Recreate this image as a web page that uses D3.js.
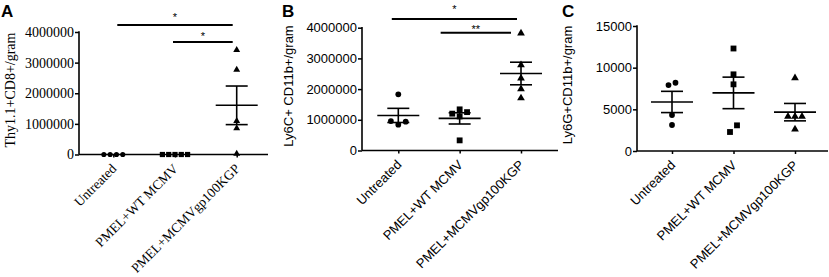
<!DOCTYPE html>
<html>
<head>
<meta charset="utf-8">
<script src="https://cdnjs.cloudflare.com/ajax/libs/d3/7.8.5/d3.min.js"></script>
<style>
  body { margin: 0; background: #fff; }
  svg { display: block; }
</style>
</head>
<body>
<div id="chart"></div>
<script>
// categories shared by the three panels
var categories = ["Untreated", "PMEL+WT MCMV", "PMEL+MCMVgp100KGP"];

// panel A: Thy1.1+CD8+ per gram
var thyUntreated = [0, 0, 0, 0];
var thyWT = [0, 0, 0, 0, 0];
var thyGp100 = [3390000, 2740000, 1070000, 830000, 0];

// panel B: Ly6C+ CD11b+ per gram
var ly6cUntreated = [1830000, 840000, 960000, 940000];
var ly6cWT = [1340000, 1110000, 1200000, 1250000, 330000];
var ly6cGp100 = [3790000, 2760000, 2330000, 1980000, 1680000];

// panel C: Ly6G+CD11b+ per gram
var ly6gUntreated = [8190, 7910, 4320, 3120];
var ly6gWT = [12300, 9200, 8000, 3080, 2280];
var ly6gGp100 = [8670, 4040, 4040, 4040, 2520];

// tick labels
var ticksMillion = [0, 1000000, 2000000, 3000000, 4000000];
var ticksThousand = [0, 5000, 10000, 15000];

// significance comparisons (category index pairs)
var sigA = [[0, 2, "*"], [1, 2, "*"]];
var sigB = [[0, 2, "*"], [1, 2, "**"]];

var w = 829, h = 277;
var svg = d3.select("#chart").append("svg")
  .attr("width", w)
  .attr("height", h);

var serif = "Liberation Serif, Times New Roman, serif";
var sans = "Liberation Sans, Arial, sans-serif";

var panels = [
  { letter: "A", lx: 1, title: "Thy1.1+CD8+/gram", tx: 10, ty: 90, font: serif, fs: 14, cfs: 13.5,
    ax0: 79, ax1: 268, cx0: 113.3, cx1: 236.7, y0: 154.5, y1: 32, max: 4000000,
    ticks: ticksMillion, groups: [thyUntreated, thyWT, thyGp100], spread: 6.3, msize: 0.8,
    sig: sigA, sigLayout: [[4, -4, 25, 10], [-2, -4, 42, 8]] },
  { letter: "B", lx: 282, title: "Ly6C+ CD11b+/gram", tx: 288, ty: 86, font: sans, fs: 13, cfs: 13,
    ax0: 362, ax1: 558, cx0: 398.3, cx1: 521, y0: 150.5, y1: 27.7, max: 4000000,
    ticks: ticksMillion, groups: [ly6cUntreated, ly6cWT, ly6cGp100], spread: 7.4, msize: 1,
    sig: sigB, sigLayout: [[-6.5, -4, 19, 12], [-19, -10, 32.7, 6]] },
  { letter: "C", lx: 562, title: "Ly6G+CD11b+/gram", tx: 567, ty: 85, font: sans, fs: 13, cfs: 13,
    ax0: 637, ax1: 828, cx0: 672, cx1: 795, y0: 151, y1: 26, max: 15000,
    ticks: ticksThousand, groups: [ly6gUntreated, ly6gWT, ly6gGp100], spread: 7, msize: 1,
    sig: [], sigLayout: [] }
];

var shapes = [d3.symbolCircle, d3.symbolSquare, d3.symbolTriangle];
var shapeSize = [26, 34, 26];

panels.forEach(function(p) {
  var g = svg.append("g");

  var xScale = d3.scalePoint()
    .domain(categories)
    .range([p.cx0, p.cx1]);
  var yScale = d3.scaleLinear()
    .domain([0, p.max])
    .range([p.y0, p.y1]);

  // panel letter
  g.append("text")
    .attr("x", p.lx)
    .attr("y", 17)
    .attr("font-family", sans)
    .attr("font-weight", "bold")
    .attr("font-size", "17px")
    .text(p.letter);

  // y axis
  var yAxis = d3.axisLeft(yScale)
    .tickValues(p.ticks)
    .tickSize(4)
    .tickPadding(1)
    .tickFormat(d3.format("d"));
  var ya = g.append("g")
    .attr("transform", "translate(" + p.ax0 + ",0)")
    .call(yAxis);
  ya.attr("font-family", p.font).attr("font-size", p.fs);
  ya.select(".domain").remove();
  ya.selectAll("line").attr("stroke", "#000").attr("stroke-width", 1.5);
  ya.selectAll("text").attr("fill", "#000");
  g.append("line")
    .attr("x1", p.ax0).attr("x2", p.ax0)
    .attr("y1", yScale(p.max) - 0.75).attr("y2", p.y0)
    .attr("stroke", "#000").attr("stroke-width", 1.6);

  // x axis
  var xAxis = d3.axisBottom(xScale).tickSize(3).tickFormat("");
  var xa = g.append("g")
    .attr("transform", "translate(0," + p.y0 + ")")
    .call(xAxis);
  xa.select(".domain").remove();
  xa.selectAll("line").attr("stroke", "#000").attr("stroke-width", 1.5);
  g.append("line")
    .attr("x1", p.ax0).attr("x2", p.ax1)
    .attr("y1", p.y0).attr("y2", p.y0)
    .attr("stroke", "#000").attr("stroke-width", 1.6);

  // category labels
  g.selectAll(".cat")
    .data(categories)
    .enter()
    .append("text")
    .attr("class", "cat")
    .attr("transform", function(d) {
      return "translate(" + (xScale(d) + 4) + "," + (p.y0 + 15) + ") rotate(-45)";
    })
    .attr("text-anchor", "end")
    .attr("font-family", p.font)
    .attr("font-size", p.cfs + "px")
    .text(function(d) { return d; });

  // y title
  g.append("text")
    .attr("transform", "translate(" + p.tx + "," + p.ty + ") rotate(-90)")
    .attr("text-anchor", "middle")
    .attr("dy", "0.35em")
    .attr("font-family", p.font)
    .attr("font-size", p.fs + "px")
    .text(p.title);

  // points, spread sideways where they would overlap
  p.groups.forEach(function(vals, gi) {
    var cx = xScale(categories[gi]);
    var placed = [];
    vals.forEach(function(v) {
      var py = yScale(v);
      var k = 0, off = 0;
      while (true) {
        off = k === 0 ? 0 : (k % 2 === 1 ? -1 : 1) * Math.ceil(k / 2) * p.spread;
        var hit = placed.some(function(q) {
          return Math.abs(q.y - py) < 6.85 && Math.abs(q.off - off) < p.spread - 0.5;
        });
        if (!hit) break;
        k++;
      }
      placed.push({ v: v, y: py, off: off });
    });
    // centre each cluster of touching points on the category
    var cluster = placed.map(function() { return -1; });
    var nc = 0;
    placed.forEach(function(q, i) {
      if (cluster[i] >= 0) return;
      var stack = [i];
      cluster[i] = nc;
      while (stack.length) {
        var a = stack.pop();
        placed.forEach(function(r, j) {
          if (cluster[j] < 0 && Math.abs(placed[a].y - r.y) < 6.85) {
            cluster[j] = nc;
            stack.push(j);
          }
        });
      }
      nc++;
    });
    for (var c = 0; c < nc; c++) {
      var mem = placed.filter(function(q, i) { return cluster[i] === c; });
      var m = d3.mean(mem, function(q) { return q.off; });
      mem.forEach(function(q) { q.off -= m; });
    }

    g.selectAll(".pt" + gi)
      .data(placed)
      .enter()
      .append("path")
      .attr("d", d3.symbol().type(shapes[gi]).size(shapeSize[gi] * p.msize))
      .attr("transform", function(d) {
        var dy = gi === 2 ? -0.8 : 0;
        return "translate(" + (cx + d.off) + "," + (d.y + dy) + ")";
      })
      .attr("fill", "#000");

    // mean and SEM
    var mean = d3.mean(vals);
    var sem = d3.deviation(vals) / Math.sqrt(vals.length);
    var bars = [
      [cx - 21, cx + 21, mean, mean],
      [cx - 11, cx + 11, mean + sem, mean + sem],
      [cx - 11, cx + 11, mean - sem, mean - sem],
      [cx, cx, mean - sem, mean + sem]
    ];
    if (sem > 0) {
      g.selectAll(".eb" + gi)
        .data(bars)
        .enter()
        .append("line")
        .attr("x1", function(d) { return d[0]; })
        .attr("x2", function(d) { return d[1]; })
        .attr("y1", function(d) { return yScale(d[2]); })
        .attr("y2", function(d) { return yScale(d[3]); })
        .attr("stroke", "#000")
        .attr("stroke-width", 1.6);
    }
  });

  // significance bars
  p.sig.forEach(function(s, i) {
    var lay = p.sigLayout[i];
    var xa1 = xScale(categories[s[0]]) + lay[0];
    var xb1 = xScale(categories[s[1]]) + lay[1];
    g.append("line")
      .attr("x1", xa1).attr("x2", xb1)
      .attr("y1", lay[2]).attr("y2", lay[2])
      .attr("stroke", "#000").attr("stroke-width", 2);
    g.append("text")
      .attr("x", (xa1 + xb1) / 2)
      .attr("y", lay[2] - lay[3] + 6)
      .attr("text-anchor", "middle")
      .attr("font-family", sans)
      .attr("font-size", "11px")
      .text(s[2]);
  });
});
</script>
</body>
</html>
